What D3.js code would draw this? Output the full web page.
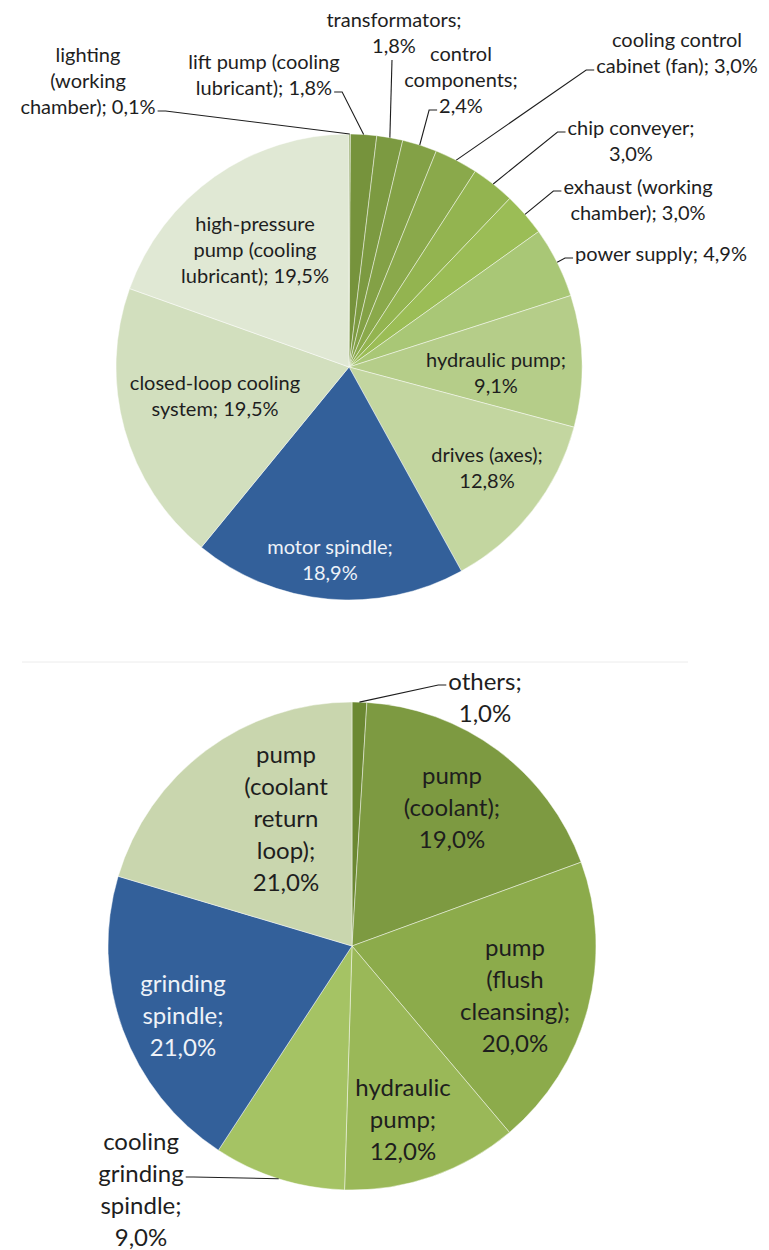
<!DOCTYPE html>
<html>
<head>
<meta charset="utf-8">
<script src="https://cdn.jsdelivr.net/npm/d3@7"></script>
<style>
  html, body { margin: 0; padding: 0; background: #ffffff; }
  svg { display: block; }
  text { font-family: Lato, "Open Sans", sans-serif; }
</style>
</head>
<body>
<svg id="chart" width="769" height="1250"></svg>
<script>
// Machining centre: share of electrical energy per component (%)
const millNames = [
  "lighting (working chamber)", "lift pump (cooling lubricant)", "transformators",
  "control components", "cooling control cabinet (fan)", "chip conveyer",
  "exhaust (working chamber)", "power supply", "hydraulic pump", "drives (axes)",
  "motor spindle", "closed-loop cooling system", "high-pressure pump (cooling lubricant)"
];
const millShares = [0.1, 1.8, 1.8, 2.4, 3.0, 3.0, 3.0, 4.9, 9.1, 12.8, 18.9, 19.5, 19.5];
const millColors = [
  "#6f8c36", "#76933c", "#7c9a41", "#83a146", "#8aa94b", "#93b450", "#9bbd56",
  "#a9c776", "#b5cd89", "#c3d6a0", "#33609a", "#d2dfbe", "#e0e8d4"
];

// Grinding machine: share of electrical energy per component (%)
const grindNames = [
  "others", "pump (coolant)", "pump (flush cleansing)", "hydraulic pump",
  "cooling grinding spindle", "grinding spindle", "pump (coolant return loop)"
];
const grindShares = [1.0, 19.0, 20.0, 12.0, 9.0, 21.0, 21.0];
const grindColors = ["#6b8832", "#7d9a41", "#8cab4b", "#9ab858", "#a5c364", "#33609a", "#c9d6ae"];

// Label layout: words per line, block offset from pie centre, optional leader line
const millLabelLayout = [
  { lines: [1, 1, 2], dx: -261, dy: -286, leader: { side: "right", line: 2 } },
  { lines: [3, 2],    dx: -85,  dy: -292, leader: { side: "right", line: 1 } },
  { lines: [1, 1],    dx: 45,   dy: -334, leader: { side: "bottom" } },
  { lines: [1, 1, 1], dx: 112,  dy: -287, leader: { side: "left", line: 2 } },
  { lines: [2, 3],    dx: 328,  dy: -314, leader: { side: "left", line: 1 } },
  { lines: [2, 1],    dx: 282,  dy: -226, leader: { side: "left", line: 0 } },
  { lines: [2, 2],    dx: 289,  dy: -167, leader: { side: "left", line: 0 } },
  { lines: [3],       dx: 312,  dy: -113, leader: { side: "left", line: 0 } },
  { lines: [2, 1],    dx: 147,  dy: 6 },
  { lines: [2, 1],    dx: 138,  dy: 101 },
  { lines: [2, 1],    dx: -19,  dy: 193, light: true },
  { lines: [2, 2],    dx: -134, dy: 29 },
  { lines: [1, 2, 2], dx: -94,  dy: -117 }
];
const grindLabelLayout = [
  { lines: [1, 1],          dx: 133,  dy: -249, leader: { side: "left", line: 0 } },
  { lines: [1, 1, 1],       dx: 100,  dy: -139 },
  { lines: [1, 1, 1, 1],    dx: 163,  dy: 49 },
  { lines: [1, 1, 1],       dx: 51,   dy: 173 },
  { lines: [1, 1, 1, 1],    dx: -211, dy: 243, leader: { side: "right", line: 1 } },
  { lines: [1, 1, 1],       dx: -169, dy: 69, light: true },
  { lines: [1, 1, 1, 1, 1], dx: -66,  dy: -128 }
];

const svg = d3.select("#chart");
const pct = v => d3.format(".1f")(v).replace(".", ",") + "%";

// faint rule between the two charts
svg.append("line")
  .attr("x1", 22).attr("x2", 688).attr("y1", 662).attr("y2", 662)
  .attr("stroke", "#ececec").attr("stroke-width", 1);

function drawPie(cfg) {
  const { names, values, colors, layout, cx, cy, r, fontSize, lineHeight } = cfg;
  const g = svg.append("g").attr("transform", `translate(${cx},${cy})`);
  const pie = d3.pie().sort(null).value(d => d).startAngle(0).endAngle(2 * Math.PI);
  const arcs = pie(values);
  const arc = d3.arc().innerRadius(0).outerRadius(r);

  g.selectAll("path.slice")
    .data(arcs)
    .join("path")
    .attr("class", "slice")
    .attr("d", arc)
    .attr("fill", (d, i) => colors[i])
    .attr("stroke", "rgba(255,255,255,0.45)")
    .attr("stroke-width", 1);

  arcs.forEach((a, i) => {
    const lay = layout[i];
    const words = (names[i] + "; " + pct(values[i])).split(" ");
    const lines = [];
    let k = 0;
    lay.lines.forEach(n => { lines.push(words.slice(k, k + n).join(" ")); k += n; });

    const n = lines.length;
    const lg = g.append("g").attr("class", "label");
    const lineY = j => lay.dy + (j - (n - 1) / 2) * lineHeight;
    const widths = lines.map((t, j) => {
      const te = lg.append("text")
        .attr("x", lay.dx)
        .attr("y", lineY(j) + fontSize * 0.36)
        .attr("text-anchor", "middle")
        .attr("font-size", fontSize)
        .attr("fill", lay.light ? "#eef2f8" : "#1e1e1e")
        .text(t);
      return te.node().getComputedTextLength();
    });

    if (lay.leader) {
      const mid = (a.startAngle + a.endAngle) / 2;
      const px = r * Math.sin(mid), py = -r * Math.cos(mid);
      let pts;
      if (lay.leader.side === "bottom") {
        const y0 = lineY(n - 1) + fontSize * 0.7;
        pts = [[lay.dx - 2, y0], [px, py]];
      } else {
        const j = lay.leader.line;
        const half = widths[j] / 2;
        const y0 = lineY(j) + 4;
        const sgn = lay.leader.side === "left" ? -1 : 1;
        const x0 = lay.dx + sgn * (half + 2);
        const x1 = x0 + sgn * 8;
        pts = [[x0, y0], [x1, y0], [px, py]];
      }
      g.append("path")
        .attr("d", d3.line()(pts))
        .attr("fill", "none")
        .attr("stroke", "#1e1e1e")
        .attr("stroke-width", 1.1);
    }
  });
}

drawPie({
  names: millNames, values: millShares, colors: millColors, layout: millLabelLayout,
  cx: 349, cy: 367, r: 233, fontSize: 20, lineHeight: 26
});
drawPie({
  names: grindNames, values: grindShares, colors: grindColors, layout: grindLabelLayout,
  cx: 352, cy: 946, r: 244, fontSize: 24, lineHeight: 32
});
</script>
</body>
</html>
